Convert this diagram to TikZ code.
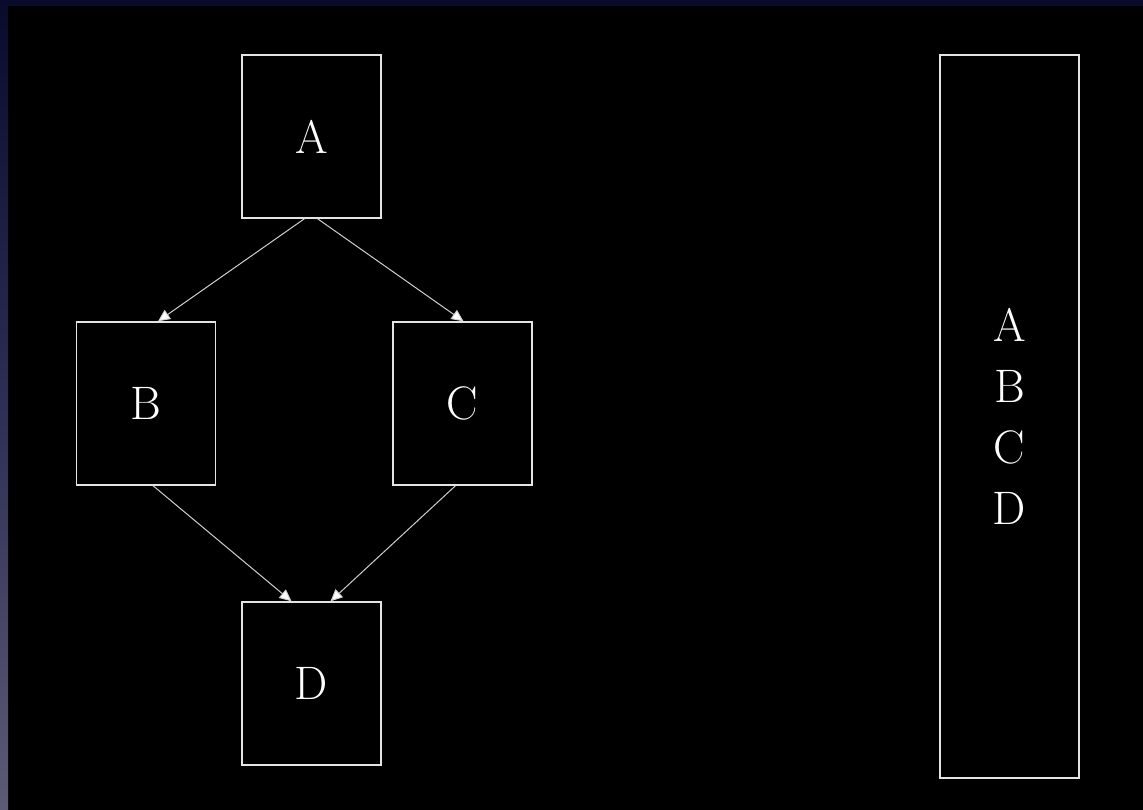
\documentclass[tikz,border=0pt]{standalone}
\usepackage{fontspec}
\usetikzlibrary{arrows.meta}
\definecolor{framenavy}{HTML}{0A0A2C}
\definecolor{stripbottom}{HTML}{5C5A74}
\definecolor{stripmid}{HTML}{2E2E56}
\definecolor{boxline}{HTML}{E4E4E4}
\definecolor{edgeline}{HTML}{CFCFCF}
\tikzset{
  vertex/.style={draw=boxline, line width=1.4pt, minimum width=139pt, minimum height=163pt,
    inner sep=0pt, text=white, font=\fontsize{47}{60}\selectfont},
  column/.style={draw=boxline, line width=1.4pt, minimum width=139pt, minimum height=723pt,
    inner sep=0pt, text=white, align=center, font=\fontsize{47}{61}\selectfont},
  link/.style={draw=edgeline, line width=1pt,
    -{Triangle[length=12pt,width=11pt,fill=white]}}
}
\begin{document}
\begin{tikzpicture}[x=1pt,y=-1pt]
  % page frame: black sheet with a dark strip on top and a shaded strip on the left
  \useasboundingbox (0,0) rectangle (1143,810);
  \fill[black] (0,0) rectangle (1143,810);
  \fill[framenavy] (0,0) rectangle (1143,6);
  \shade[top color=framenavy, bottom color=stripbottom, middle color=stripmid] (0,0) rectangle (8,810);

  % graph
  \node[vertex] (A) at (311.5,136.5) {A};
  \node[vertex] (B) at (146,403.5) {B};
  \node[vertex] (C) at (462.5,403.5) {C};
  \node[vertex] (D) at (311.5,683.5) {D};

  % linear order
  \node[column] (L) at (1009.5,416.5) {A\\B\\C\\D};

  \draw[link] ([xshift=-7pt]A.south) -- ([xshift=12pt]B.north);
  \draw[link] ([xshift=6pt]A.south) -- ([xshift=1pt]C.north);
  \draw[link] ([xshift=7pt]B.south) -- ([xshift=-20pt]D.north);
  \draw[link] ([xshift=-7pt]C.south) -- ([xshift=19pt]D.north);
\end{tikzpicture}
\end{document}
